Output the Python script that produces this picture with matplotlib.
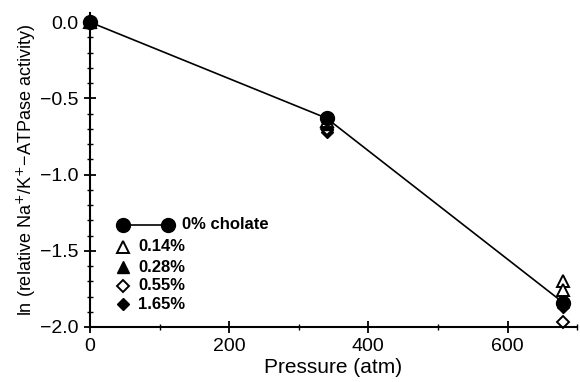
import numpy as np
import matplotlib
matplotlib.use("Agg")
import matplotlib.pyplot as plt
from matplotlib.ticker import MultipleLocator, FuncFormatter

plt.rcParams['font.family'] = ['Liberation Sans', 'DejaVu Sans']

pressure = [0, 340, 680]
chol_0 = [0.0, -0.63, -1.84]
pressure_014 = [0, 340, 680, 680]
chol_014 = [0.0, -0.65, -1.70, -1.76]
chol_028 = [0.0, -0.67, -1.83]
chol_055 = [0.0, -0.70, -1.97]
chol_165 = [0.0, -0.72, -1.87]

labels = ["0% cholate", "0.14%", "0.28%", "0.55%", "1.65%"]

# marker styles for each series (0% cholate drawn with a line)
open_kw = dict(mfc="white", mec="black", mew=1.4)
styles = [
    dict(marker="o", ms=10, color="black"),
    dict(marker="^", ms=8, **open_kw),
    dict(marker="^", ms=8, color="black"),
    dict(marker="D", ms=6.5, **open_kw),
    dict(marker="D", ms=6.5, color="black"),
]

fig = plt.figure(figsize=(5.8, 3.82), dpi=100)
ax = fig.add_axes([0.155, 0.144, 0.84, 0.822])

ax.plot(pressure, chol_165, linestyle="none", clip_on=False, **styles[4])
ax.plot(pressure, chol_055, linestyle="none", clip_on=False, **styles[3])
ax.plot(pressure, chol_028, linestyle="none", clip_on=False, **styles[2])
ax.plot(pressure_014, chol_014, linestyle="none", clip_on=False, **styles[1])
ax.plot(pressure, chol_0, lw=1.2, clip_on=False, **styles[0])

ax.set_xlim(0, 700)
ax.set_ylim(-2.0, 0.06)
ax.spines['top'].set_visible(False)
ax.spines['right'].set_visible(False)
ax.spines['left'].set_linewidth(1.5)
ax.spines['bottom'].set_linewidth(1.5)

ax.xaxis.set_major_locator(MultipleLocator(200))
ax.xaxis.set_minor_locator(MultipleLocator(100))
ax.yaxis.set_major_locator(MultipleLocator(0.5))
ax.yaxis.set_minor_locator(MultipleLocator(0.1))
ax.tick_params(which="major", direction="inout", length=9, width=1.3, labelsize=14)
ax.tick_params(which="minor", direction="inout", length=5, width=1.0)
ax.yaxis.set_major_formatter(FuncFormatter(lambda v, p: f"{v:.1f}".replace("-", "\u2212")))

ax.set_xlabel("Pressure (atm)", fontsize=15, labelpad=2)
ax.set_ylabel("ln (relative Na$^{+}$/K$^{+}$\u2212ATPase activity)", fontsize=13, labelpad=2)

# hand-placed legend, like the original figure
rows = [0.325, 0.255, 0.191, 0.131, 0.073]
tr = ax.transAxes
ax.plot([0.068, 0.160], [rows[0], rows[0]], transform=tr, lw=1.2, clip_on=False, **styles[0])
ax.text(0.189, rows[0], labels[0], transform=tr, va="center", fontsize=12, fontweight="bold")
for i in range(1, 5):
    ax.plot([0.068], [rows[i]], transform=tr, linestyle="none", clip_on=False, **styles[i])
    ax.text(0.099, rows[i], labels[i], transform=tr, va="center", fontsize=12, fontweight="bold")

fig.savefig("out.png", dpi=100)
